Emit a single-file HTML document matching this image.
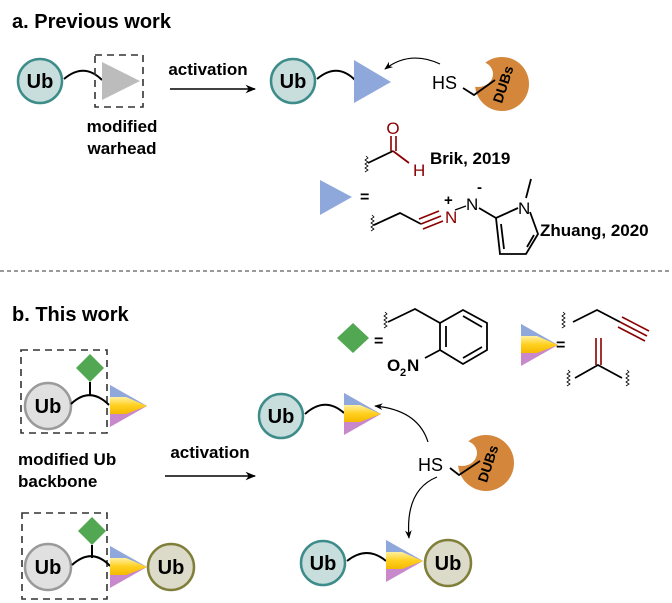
<!DOCTYPE html>
<html><head><meta charset="utf-8"><style>
html,body{margin:0;padding:0;background:#fff;}
svg{display:block;font-family:"Liberation Sans",sans-serif;}
</style></head><body>
<svg width="672" height="603" viewBox="0 0 672 603" xmlns="http://www.w3.org/2000/svg">
<defs>
<linearGradient id="yg" x1="0" y1="0" x2="0" y2="1"><stop offset="0" stop-color="#fff0a0"/><stop offset="0.5" stop-color="#ffd020"/><stop offset="1" stop-color="#f5b800"/></linearGradient>
<marker id="ah" viewBox="0 0 10 10" refX="9" refY="5" markerWidth="7" markerHeight="7" orient="auto"><path d="M0,1 L10,5 L0,9 L3,5z" fill="#000"/></marker>
<g id="tri3">
<path d="M0,0 L37,21 L0,42z" fill="#c888cc"/>
<path d="M0,0 L37,21 L0,21z" fill="#8fa8dc"/>
<path d="M0,12 L16,12 L37,21 L16,29 L0,29z" fill="url(#yg)"/>
</g>
</defs>
<g font-weight="bold">
<text x="12" y="28" font-size="20">a. Previous work</text>
<text x="12" y="321" font-size="20">b. This work</text>
</g>

<!-- section a -->
<circle cx="40" cy="81" r="22" fill="#c8dedd" stroke="#3d8c8a" stroke-width="2.5"/>
<text x="40" y="88" font-size="20" font-weight="bold" text-anchor="middle">Ub</text>
<path d="M64,79 Q84,62 102,80" fill="none" stroke="#000" stroke-width="2"/>
<rect x="95" y="55" width="48" height="52" fill="none" stroke="#333" stroke-width="1.6" stroke-dasharray="7,5"/>
<path d="M102,62 L140,81 L102,100z" fill="#bcbcbc"/>
<text x="122" y="132" font-size="17" font-weight="bold" text-anchor="middle">modified</text>
<text x="122" y="154" font-size="17" font-weight="bold" text-anchor="middle">warhead</text>
<text x="208" y="75" font-size="17" font-weight="bold" text-anchor="middle">activation</text>
<line x1="170" y1="89" x2="255" y2="89" stroke="#000" stroke-width="1.5" marker-end="url(#ah)"/>
<circle cx="293" cy="81" r="22" fill="#c8dedd" stroke="#3d8c8a" stroke-width="2.5"/>
<text x="293" y="88" font-size="20" font-weight="bold" text-anchor="middle">Ub</text>
<path d="M317,79 Q337,62 355,80" fill="none" stroke="#000" stroke-width="2"/>
<path d="M354,60 L391,82 L354,103z" fill="#8fa8dc"/>
<path d="M440,64 Q410,50 385,69" fill="none" stroke="#000" stroke-width="1.2" marker-end="url(#ah)"/>
<text x="432" y="89" font-size="18">HS</text>
<g transform="translate(502,84)">
<circle r="27" fill="#d4873a"/>
<ellipse cx="-24" cy="-10" rx="15" ry="13" fill="#fff"/>
<text transform="rotate(-72)" x="0" y="6" font-size="14" font-weight="bold" text-anchor="middle">DUBs</text>
</g>
<path d="M463,88 L474,95 L495,80" fill="none" stroke="#000" stroke-width="1.8"/>

<!-- Brik -->
<path d="M366,156 l2,2 -3,2 3,2 -3,2 3,2 -3,2 3,2 -3,2" fill="none" stroke="#000" stroke-width="0.8"/>
<path d="M368,163 L393,151" stroke="#000" stroke-width="1.8"/>
<path d="M393,151 L409,163" stroke="#8b0000" stroke-width="1.8"/>
<path d="M391,151 L391,136 M396,151 L396,136" stroke="#8b0000" stroke-width="1.6"/>
<text x="393" y="134" font-size="17" fill="#8b0000" text-anchor="middle">O</text>
<text x="413" y="176" font-size="17" fill="#8b0000">H</text>
<text x="430" y="164" font-size="17" font-weight="bold">Brik, 2019</text>

<path d="M320,180 L352,197 L320,215z" fill="#8fa8dc"/>
<text x="360" y="202" font-size="16" font-weight="bold">=</text>
<!-- Zhuang -->
<path d="M372,215 l2,2 -3,2 3,2 -3,2 3,2 -3,2 3,2 -3,2" fill="none" stroke="#000" stroke-width="0.8"/>
<path d="M374,225 L400,213 L421,224" fill="none" stroke="#000" stroke-width="1.8"/>
<path d="M421,224 L441,216 M419,219 L439,211 M423,229 L443,221" stroke="#8b0000" stroke-width="1.6"/>
<text x="445" y="223" font-size="17" fill="#8b0000">N</text>
<text x="444" y="205" font-size="15" font-weight="bold">+</text>
<line x1="455" y1="210" x2="466" y2="206" stroke="#000" stroke-width="1.4"/>
<text x="466" y="210" font-size="17">N</text>
<text x="477" y="192" font-size="15" font-weight="bold">-</text>
<path d="M479,208 L496,218 L518,208 M530,212 L538,234 L526,254 L500,254 L496,218 M501,224 L504,249 M527,247 L534,235 M526,198 L531,179" fill="none" stroke="#000" stroke-width="1.8"/>
<text x="518" y="214" font-size="17">N</text>
<text x="540" y="236" font-size="17" font-weight="bold">Zhuang, 2020</text>

<line x1="0" y1="271" x2="672" y2="271" stroke="#333" stroke-width="1" stroke-dasharray="4,3"/>

<!-- section b right legend -->
<path d="M353,323 L369,338 L353,353 L337,338z" fill="#52a852"/>
<text x="374" y="346" font-size="16" font-weight="bold">=</text>
<path d="M385,312 l2,2 -3,2 3,2 -3,2 3,2 -3,2 3,2 -3,2" fill="none" stroke="#000" stroke-width="0.8"/>
<path d="M388,322 L415,309 L440,323" fill="none" stroke="#000" stroke-width="1.8"/>
<path d="M440,323 L463,310 L487,323 L487,350 L463,364 L440,350 Z" fill="none" stroke="#000" stroke-width="1.8"/>
<path d="M446,326 L446,347 M463,316 L482,327 M482,347 L463,358 M440,350 L425,358" fill="none" stroke="#000" stroke-width="1.8"/>
<text x="387" y="371" font-size="17" font-weight="bold">O</text>
<text x="400" y="376" font-size="11" font-weight="bold">2</text>
<text x="407" y="371" font-size="17" font-weight="bold">N</text>

<use href="#tri3" x="521" y="324"/>
<text x="556" y="350" font-size="16" font-weight="bold">=</text>
<path d="M563,312 l2,2 -3,2 3,2 -3,2 3,2 -3,2 3,2 -3,2" fill="none" stroke="#000" stroke-width="0.8"/>
<path d="M573,322 L597,310 L620,322" fill="none" stroke="#000" stroke-width="1.8"/>
<path d="M620,322 L647,336 M622,317 L649,331 M618,327 L645,341" stroke="#8b0000" stroke-width="1.6"/>
<path d="M568,370 l2,2 -3,2 3,2 -3,2 3,2 -3,2 3,2 -3,2" fill="none" stroke="#000" stroke-width="0.8"/>
<path d="M627,370 l2,2 -3,2 3,2 -3,2 3,2 -3,2 3,2 -3,2" fill="none" stroke="#000" stroke-width="0.8"/>
<path d="M575,378 L598,365 L622,378" fill="none" stroke="#000" stroke-width="1.8"/>
<path d="M596,365 L596,338 M601,365 L601,338" stroke="#8b0000" stroke-width="1.6"/>

<!-- b left top -->
<rect x="21" y="350" width="86" height="83" fill="none" stroke="#333" stroke-width="1.6" stroke-dasharray="7,5"/>
<path d="M90,354 L104,368 L90,382 L76,368z" fill="#52a852"/>
<line x1="90" y1="382" x2="90" y2="396" stroke="#000" stroke-width="2"/>
<circle cx="48" cy="406" r="23" fill="#e0e0e0" stroke="#9a9a9a" stroke-width="2.5"/>
<text x="48" y="413" font-size="20" font-weight="bold" text-anchor="middle">Ub</text>
<path d="M71,404 Q90,386 109,405" fill="none" stroke="#000" stroke-width="2"/>
<use href="#tri3" x="110" y="385"/>
<text x="18" y="465" font-size="17" font-weight="bold">modified Ub</text>
<text x="18" y="487" font-size="17" font-weight="bold">backbone</text>
<text x="210" y="458" font-size="17" font-weight="bold" text-anchor="middle">activation</text>
<line x1="165" y1="476" x2="255" y2="476" stroke="#000" stroke-width="1.5" marker-end="url(#ah)"/>

<!-- b left bottom -->
<rect x="22" y="513" width="85" height="86" fill="none" stroke="#333" stroke-width="1.6" stroke-dasharray="7,5"/>
<path d="M92,517 L106,531 L92,545 L78,531z" fill="#52a852"/>
<line x1="92" y1="545" x2="92" y2="558" stroke="#000" stroke-width="2"/>
<circle cx="48" cy="567" r="23" fill="#e0e0e0" stroke="#9a9a9a" stroke-width="2.5"/>
<text x="48" y="574" font-size="20" font-weight="bold" text-anchor="middle">Ub</text>
<path d="M72,565 Q92,547 110,566" fill="none" stroke="#000" stroke-width="2"/>
<use href="#tri3" x="110" y="546"/>
<circle cx="171" cy="567" r="23" fill="#dcdac8" stroke="#7f7f3a" stroke-width="2.5"/>
<text x="171" y="574" font-size="20" font-weight="bold" text-anchor="middle">Ub</text>

<!-- b products -->
<circle cx="281" cy="416" r="22" fill="#c8dedd" stroke="#3d8c8a" stroke-width="2.5"/>
<text x="281" y="423" font-size="20" font-weight="bold" text-anchor="middle">Ub</text>
<path d="M305,414 Q325,396 344,413" fill="none" stroke="#000" stroke-width="2"/>
<use href="#tri3" x="344" y="393"/>
<path d="M428,442 Q418,410 375,406" fill="none" stroke="#000" stroke-width="1.2" marker-end="url(#ah)"/>
<text x="418" y="471" font-size="18">HS</text>
<g transform="translate(486,463)">
<circle r="28" fill="#d4873a"/>
<ellipse cx="-24" cy="-10" rx="15" ry="13" fill="#fff"/>
<text transform="rotate(-72)" x="0" y="7" font-size="14" font-weight="bold" text-anchor="middle">DUBs</text>
</g>
<path d="M450,468 L459,475 L480,461" fill="none" stroke="#000" stroke-width="1.8"/>
<path d="M437,477 Q405,490 409,538" fill="none" stroke="#000" stroke-width="1.2" marker-end="url(#ah)"/>

<circle cx="323" cy="563" r="22" fill="#c8dedd" stroke="#3d8c8a" stroke-width="2.5"/>
<text x="323" y="570" font-size="20" font-weight="bold" text-anchor="middle">Ub</text>
<path d="M347,561 Q367,545 386,561" fill="none" stroke="#000" stroke-width="2"/>
<use href="#tri3" x="386" y="540"/>
<circle cx="448" cy="563" r="23" fill="#dcdac8" stroke="#7f7f3a" stroke-width="2.5"/>
<text x="448" y="570" font-size="20" font-weight="bold" text-anchor="middle">Ub</text>
</svg>
</body></html>
